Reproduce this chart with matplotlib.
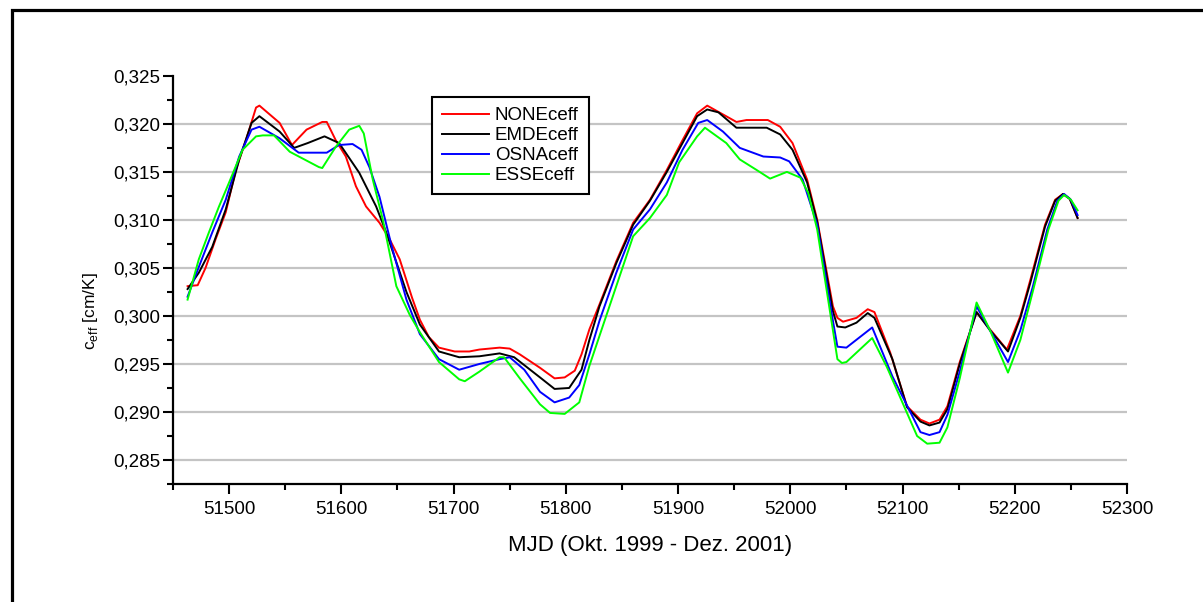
import matplotlib
matplotlib.use("Agg")
import matplotlib.pyplot as plt
from matplotlib.lines import Line2D
from matplotlib.ticker import FuncFormatter, MultipleLocator

plt.rcParams["font.family"] = ["Liberation Sans", "DejaVu Sans"]

# c_eff per correction method, MJD Oct 1999 - Dec 2001
none_mjd = [51463, 51472, 51479, 51488, 51497, 51506, 51515, 51524, 51527, 51545,
            51556, 51569, 51583, 51587, 51595, 51604, 51613, 51622, 51634, 51643,
            51652, 51663, 51670, 51678, 51687, 51701, 51714, 51723, 51741, 51750,
            51759, 51777, 51790, 51799, 51808, 51814, 51821, 51830, 51845, 51860,
            51875, 51890, 51904, 51917, 51926, 51952, 51961, 51980, 51991, 52002,
            52015, 52024, 52038, 52042, 52047, 52059, 52069, 52075, 52089, 52104,
            52116, 52124, 52133, 52140, 52151, 52166, 52178, 52193, 52205, 52214,
            52227, 52236, 52243, 52249, 52256]
none_ceff = [0.3031, 0.3032, 0.3050, 0.3080, 0.3108, 0.3152, 0.3183, 0.3217, 0.3219, 0.3201,
             0.3178, 0.3194, 0.3202, 0.3202, 0.3183, 0.3166, 0.3135, 0.3114, 0.3097, 0.3080,
             0.3059, 0.3019, 0.2996, 0.2978, 0.2967, 0.2963, 0.2963, 0.2965, 0.2967, 0.2966,
             0.2960, 0.2946, 0.2935, 0.2936, 0.2943, 0.2960, 0.2986, 0.3012, 0.3057, 0.3097,
             0.3121, 0.3152, 0.3183, 0.3211, 0.3219, 0.3202, 0.3204, 0.3204, 0.3197, 0.3180,
             0.3142, 0.3100, 0.3010, 0.2998, 0.2994, 0.2998, 0.3007, 0.3004, 0.2962, 0.2906,
             0.2892, 0.2888, 0.2892, 0.2906, 0.2952, 0.3004, 0.2986, 0.2965, 0.3000, 0.3038,
             0.3095, 0.3121, 0.3127, 0.3122, 0.3102]

emde_mjd = [51463, 51473, 51485, 51497, 51509, 51520, 51527, 51545, 51558, 51570,
            51585, 51598, 51616, 51631, 51640, 51658, 51670, 51687, 51705, 51723,
            51741, 51754, 51777, 51790, 51803, 51814, 51821, 51830, 51845, 51860,
            51875, 51890, 51904, 51917, 51926, 51936, 51952, 51979, 51991, 52002,
            52015, 52024, 52038, 52042, 52049, 52059, 52069, 52075, 52091, 52104,
            52116, 52124, 52133, 52140, 52151, 52166, 52178, 52194, 52205, 52214,
            52227, 52236, 52243, 52249, 52256]
emde_ceff = [0.3028, 0.3045, 0.3072, 0.3111, 0.3163, 0.3201, 0.3208, 0.3192, 0.3175, 0.3180,
             0.3187, 0.3180, 0.3149, 0.3114, 0.3087, 0.3025, 0.2991, 0.2963, 0.2957, 0.2958,
             0.2961, 0.2957, 0.2936, 0.2924, 0.2925, 0.2944, 0.2975, 0.3010, 0.3055, 0.3095,
             0.3120, 0.3150, 0.3180, 0.3208, 0.3215, 0.3212, 0.3196, 0.3196, 0.3189, 0.3173,
             0.3139, 0.3098, 0.3005, 0.2989, 0.2988, 0.2993, 0.3003, 0.2998, 0.2955, 0.2905,
             0.2890, 0.2886, 0.2889, 0.2903, 0.2950, 0.3004, 0.2985, 0.2963, 0.2998, 0.3035,
             0.3093, 0.3120, 0.3127, 0.3122, 0.3102]

osna_mjd = [51463, 51473, 51485, 51497, 51509, 51520, 51527, 51545, 51562, 51587,
            51598, 51610, 51618, 51625, 51634, 51645, 51658, 51670, 51687, 51705,
            51723, 51741, 51750, 51763, 51777, 51790, 51803, 51812, 51821, 51830,
            51845, 51860, 51875, 51890, 51904, 51918, 51926, 51940, 51955, 51976,
            51991, 51999, 52011, 52024, 52038, 52042, 52050, 52073, 52091, 52116,
            52124, 52133, 52140, 52151, 52166, 52178, 52194, 52205, 52216, 52229,
            52238, 52244, 52250, 52256]
osna_ceff = [0.3020, 0.3051, 0.3087, 0.3121, 0.3166, 0.3194, 0.3197, 0.3185, 0.3170, 0.3170,
             0.3178, 0.3179, 0.3173, 0.3155, 0.3124, 0.3072, 0.3017, 0.2981, 0.2955, 0.2944,
             0.2950, 0.2955, 0.2957, 0.2944, 0.2921, 0.2910, 0.2915, 0.2928, 0.2960, 0.2995,
             0.3045, 0.3090, 0.3111, 0.3139, 0.3173, 0.3201, 0.3204, 0.3192, 0.3175, 0.3166,
             0.3165, 0.3161, 0.3142, 0.3095, 0.2995, 0.2968, 0.2967, 0.2988, 0.2937, 0.2879,
             0.2876, 0.2879, 0.2897, 0.2942, 0.3010, 0.2985, 0.2952, 0.2985, 0.3030, 0.3090,
             0.3120, 0.3127, 0.3121, 0.3105]

esse_mjd = [51463, 51473, 51482, 51491, 51500, 51512, 51524, 51530, 51540, 51554,
            51580, 51583, 51595, 51607, 51616, 51620, 51628, 51637, 51649, 51661,
            51670, 51687, 51705, 51710, 51723, 51741, 51745, 51759, 51777, 51786,
            51799, 51812, 51821, 51836, 51860, 51875, 51890, 51901, 51917, 51924,
            51943, 51955, 51970, 51982, 51997, 52009, 52016, 52024, 52038, 52042,
            52046, 52050, 52073, 52086, 52113, 52122, 52133, 52140, 52151, 52166,
            52178, 52194, 52205, 52216, 52230, 52239, 52244, 52250, 52256]
esse_ceff = [0.3017, 0.3059, 0.3087, 0.3114, 0.3139, 0.3173, 0.3187, 0.3188, 0.3188, 0.3171,
             0.3155, 0.3154, 0.3176, 0.3194, 0.3198, 0.3190, 0.3142, 0.3100, 0.3031, 0.3001,
             0.2983, 0.2952, 0.2934, 0.2932, 0.2942, 0.2957, 0.2957, 0.2935, 0.2908, 0.2899,
             0.2898, 0.2910, 0.2948, 0.3000, 0.3083, 0.3102, 0.3126, 0.3160, 0.3187, 0.3196,
             0.3180, 0.3163, 0.3152, 0.3143, 0.3150, 0.3144, 0.3128, 0.3090, 0.2985, 0.2955,
             0.2951, 0.2952, 0.2977, 0.2947, 0.2875, 0.2867, 0.2868, 0.2884, 0.2935, 0.3014,
             0.2985, 0.2941, 0.2975, 0.3025, 0.3090, 0.3120, 0.3126, 0.3121, 0.3110]

series = [
    ("NONEceff", none_mjd, none_ceff, "#ff0000"),
    ("EMDEceff", emde_mjd, emde_ceff, "#000000"),
    ("OSNAceff", osna_mjd, osna_ceff, "#0000ff"),
    ("ESSEceff", esse_mjd, esse_ceff, "#00ff00"),
]

fig = plt.figure(figsize=(12.03, 6.02), dpi=100)
ax = fig.add_axes([0.1438, 0.196, 0.793, 0.678])

for name, mjd, ceff, color in series:
    ax.plot(mjd, ceff, color=color, lw=1.4, label=name, zorder=3)

ax.set_xlim(51450, 52300)
ax.set_ylim(0.2825, 0.325)
ax.xaxis.set_major_locator(MultipleLocator(100))
ax.xaxis.set_minor_locator(MultipleLocator(50))
ax.yaxis.set_major_locator(MultipleLocator(0.005))
ax.yaxis.set_minor_locator(MultipleLocator(0.0025))
ax.yaxis.set_major_formatter(FuncFormatter(lambda v, p: f"{v:.3f}".replace(".", ",")))

for y in [0.285, 0.290, 0.295, 0.300, 0.305, 0.310, 0.315, 0.320]:
    ax.axhline(y, color="#c4c4c4", lw=1.6, zorder=1)

ax.spines["top"].set_visible(False)
ax.spines["right"].set_visible(False)
for s in ["left", "bottom"]:
    ax.spines[s].set_linewidth(1.6)
ax.tick_params(which="major", length=7, width=1.5, labelsize=13.5, direction="out")
ax.tick_params(which="minor", length=4, width=1.5, direction="out")
ax.tick_params(axis="y", pad=2)
ax.tick_params(axis="x", pad=5)

ax.set_xlabel("MJD (Okt. 1999 - Dez. 2001)", fontsize=16)
ax.set_ylabel(r"c$_\mathregular{eff}$ [cm/K]", fontsize=12.5)
ax.xaxis.set_label_coords(0.5, -0.125)
ax.yaxis.set_label_coords(-0.0765, 0.424)

leg = ax.legend(loc="upper left", bbox_to_anchor=(0.2715, 0.9485), borderaxespad=0,
                fontsize=13.5, handlelength=2.5, handletextpad=0.3, labelspacing=0.15,
                borderpad=0.55, fancybox=False, framealpha=1, edgecolor="black")
leg.get_frame().set_linewidth(1.5)

# outer frame, left and top edges only
fig.add_artist(Line2D([0.0096, 0.0096, 1.0], [0.0, 0.984, 0.984],
                      transform=fig.transFigure, color="black", lw=2.3,
                      solid_joinstyle="miter"))

fig.savefig("out.png", dpi=100)
